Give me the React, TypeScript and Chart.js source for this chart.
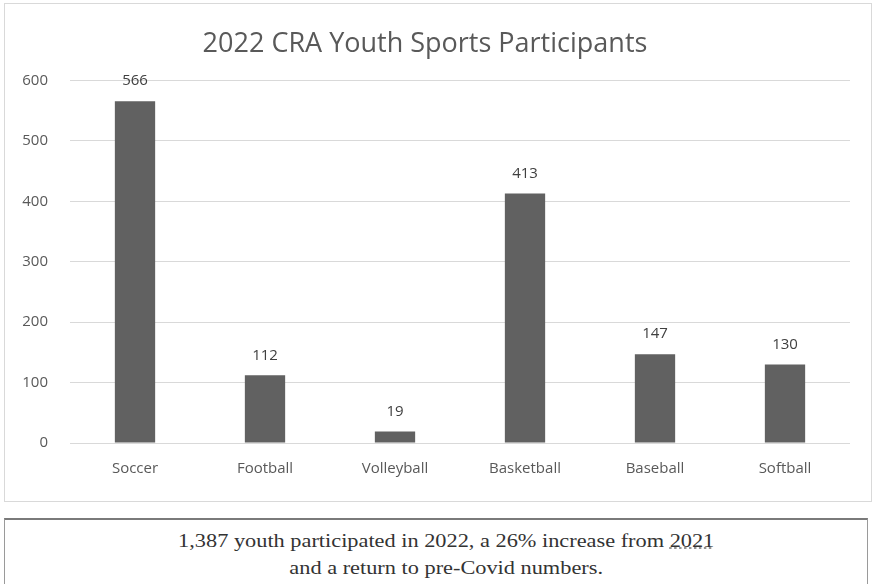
import React, { useEffect, useRef } from "react";
import { Chart, registerables } from "chart.js";

Chart.register(...registerables);

const categories = ["Soccer", "Football", "Volleyball", "Basketball", "Baseball", "Softball"];
const participants = [566, 112, 19, 413, 147, 130];
const yTicks = [0, 100, 200, 300, 400, 500, 600];
const chartTitle = "2022 CRA Youth Sports Participants";

const FONT = "'Open Sans', sans-serif";

const valueLabels = {
  id: "valueLabels",
  afterDatasetsDraw(chart: any) {
    const ctx = chart.ctx;
    const meta = chart.getDatasetMeta(0);
    ctx.save();
    ctx.font = "15px 'Open Sans', sans-serif";
    ctx.fillStyle = "#404040";
    ctx.textAlign = "center";
    ctx.textBaseline = "middle";
    meta.data.forEach((bar: any, i: number) => {
      ctx.fillText(String(participants[i]), bar.x, bar.y - 20);
    });
    ctx.restore();
  },
};

export default function App() {
  const ref = useRef<HTMLCanvasElement | null>(null);
  useEffect(() => {
    if (!ref.current) return;
    const chart = new Chart(ref.current, {
      type: "bar",
      data: {
        labels: categories,
        datasets: [
          {
            data: participants,
            backgroundColor: "#616161",
            barPercentage: 0.62,
            categoryPercentage: 0.5,
          },
        ],
      },
      options: {
        animation: false,
        responsive: false,
        maintainAspectRatio: false,
        layout: { padding: { left: 0, right: 23, top: 0, bottom: 13 } },
        plugins: {
          legend: { display: false },
          tooltip: { enabled: false },
          title: {
            display: true,
            text: chartTitle,
            color: "#595959",
            font: { family: FONT, size: 27, weight: "normal" },
            padding: { top: 28, bottom: 20.2 },
          },
        },
        scales: {
          x: {
            grid: { display: false },
            border: { display: false },
            ticks: {
              color: "#595959",
              font: { family: FONT, size: 15 },
              padding: 9,
            },
          },
          y: {
            min: 0,
            max: 600,
            afterBuildTicks(scale: any) {
              scale.ticks = yTicks.map((v) => ({ value: v }));
            },
            afterFit(scale: any) {
              scale.width = 70;
            },
            grid: { color: "#d9d9d9", lineWidth: 1, drawTicks: false },
            border: { display: false },
            ticks: {
              color: "#595959",
              font: { family: FONT, size: 15 },
              padding: 22,
            },
          },
        },
      },
      plugins: [valueLabels],
    });
    return () => chart.destroy();
  }, []);

  return (
    <div style={{ position: "fixed", left: 0, top: 0, width: 873, height: 584, background: "#fff", overflow: "hidden" }}>
      <div
        style={{
          position: "absolute",
          left: 4,
          top: 3,
          width: 866,
          height: 497,
          border: "1px solid #d9d9d9",
        }}
      />
      <canvas ref={ref} width={873} height={500} style={{ position: "absolute", left: 0, top: 0 }} />
      <div
        style={{
          position: "absolute",
          left: 4,
          top: 518,
          width: 864,
          height: 80,
          borderTop: "2px solid #7a7a7a",
          borderLeft: "1px solid #9a9a9a",
          borderRight: "1px solid #9a9a9a",
          boxSizing: "border-box",
          paddingTop: 8,
          paddingLeft: 20,
          fontFamily: "'Liberation Serif', 'Times New Roman', serif",
          fontSize: 18,
          color: "#333",
          lineHeight: "27px",
          textAlign: "center",
        }}
      >
        <div style={{ display: "inline-block", transform: "scaleX(1.24)", transformOrigin: "center" }}>
          1,387 youth participated in 2022, a 26% increase from{" "}
          <span style={{ textDecoration: "underline", textDecorationColor: "#888", textDecorationStyle: "dotted" }}>2021</span>
          <br />
          and a return to pre-Covid numbers.
        </div>
      </div>
    </div>
  );
}
